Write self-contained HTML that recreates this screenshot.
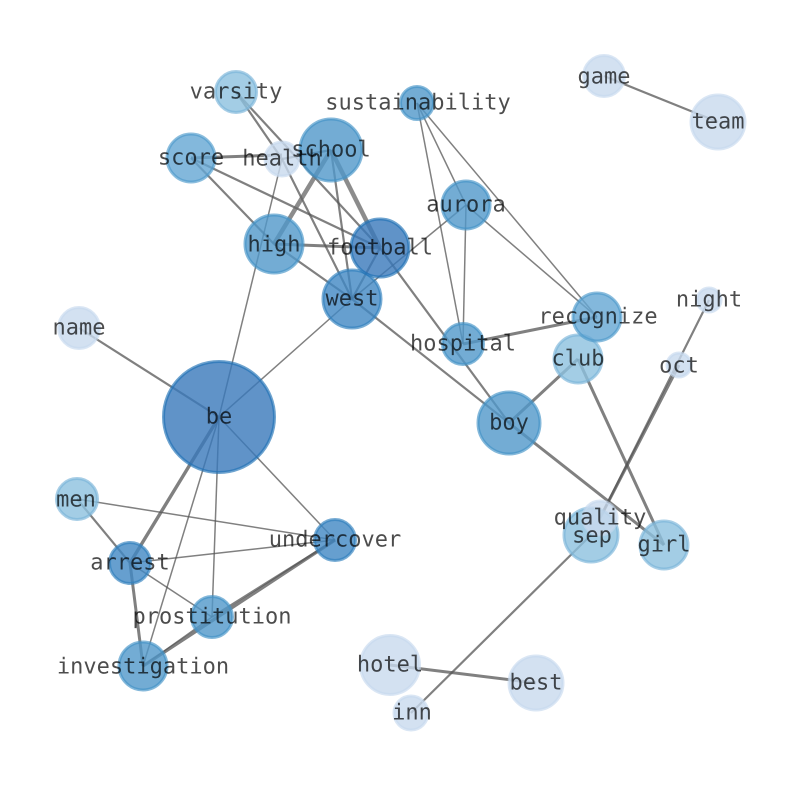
<!DOCTYPE html>
<html><head><meta charset="utf-8"><style>html,body{margin:0;padding:0;background:#fff}svg{display:block}text{font-family:"DejaVu Sans Mono","Liberation Mono",monospace;font-size:22px;fill:#000;fill-opacity:.7;text-anchor:middle;dominant-baseline:central;text-rendering:geometricPrecision}</style></head><body>
<svg width="794" height="790" viewBox="0 0 794 790" xmlns="http://www.w3.org/2000/svg">
<g stroke="#555" stroke-opacity=".75" fill="none">
<g stroke-width="1.5">
<line x1="219" y1="417" x2="352" y2="299"/><line x1="219" y1="417" x2="335" y2="540"/><line x1="219" y1="417" x2="282" y2="159"/><line x1="219" y1="417" x2="212" y2="617"/><line x1="219" y1="417" x2="143" y2="666"/>
<line x1="352" y1="299" x2="466" y2="205"/><line x1="417" y1="103" x2="463" y2="344"/><line x1="417" y1="103" x2="597" y2="317"/><line x1="417" y1="103" x2="466" y2="205"/><line x1="466" y1="205" x2="597" y2="317"/><line x1="466" y1="205" x2="463" y2="344"/>
<line x1="77" y1="499" x2="335" y2="540"/><line x1="130" y1="563" x2="335" y2="540"/><line x1="130" y1="563" x2="212" y2="617"/><line x1="212" y1="617" x2="143" y2="666"/>
</g>
<g stroke-width="2.2">
<line x1="79" y1="328" x2="219" y2="417"/><line x1="604" y1="76" x2="718" y2="122"/><line x1="236" y1="92" x2="282" y2="159"/><line x1="236" y1="92" x2="380" y2="248"/><line x1="282" y1="159" x2="352" y2="299"/><line x1="191" y1="158" x2="380" y2="248"/><line x1="191" y1="158" x2="274" y2="244"/><line x1="331" y1="150" x2="352" y2="299"/><line x1="380" y1="248" x2="509" y2="423"/><line x1="352" y1="299" x2="509" y2="423"/><line x1="380" y1="248" x2="352" y2="299"/><line x1="274" y1="244" x2="352" y2="299"/><line x1="77" y1="499" x2="130" y2="563"/><line x1="411" y1="713" x2="591" y2="535"/><line x1="709" y1="300" x2="600" y2="518"/><line x1="212" y1="617" x2="335" y2="540"/><line x1="282" y1="159" x2="331" y2="150"/>
</g>
<g stroke-width="3">
<line x1="274" y1="244" x2="380" y2="248"/><line x1="509" y1="423" x2="578" y2="359"/><line x1="509" y1="423" x2="664" y2="545"/><line x1="578" y1="359" x2="664" y2="545"/><line x1="463" y1="344" x2="597" y2="317"/><line x1="390" y1="665" x2="536" y2="683"/><line x1="130" y1="563" x2="143" y2="666"/><line x1="191" y1="158" x2="282" y2="155"/>
<line x1="679" y1="365" x2="600" y2="518"/>
</g>
<g stroke-width="3.4">
<line x1="219" y1="417" x2="130" y2="563"/><line x1="143" y1="666" x2="335" y2="540"/>
</g>
<g stroke-width="4.5" stroke="#666">
<line x1="331" y1="150" x2="274" y2="244"/><line x1="331" y1="150" x2="380" y2="248"/>
</g>
</g>
<g stroke-width="3" fill-opacity=".8" stroke-opacity=".65">
<g fill="#8cc0df" stroke="#79b4d9"><circle cx="236" cy="92" r="20.5"/><circle cx="578" cy="359" r="24"/><circle cx="77" cy="499" r="20.5"/><circle cx="591" cy="535" r="27"/><circle cx="664" cy="545" r="24"/></g>
<g fill="#c8d9ee" stroke="#c6d8ee"><circle cx="282" cy="159" r="17"/><circle cx="709" cy="300" r="12"/><circle cx="679" cy="365" r="12"/><circle cx="604" cy="76" r="20.5"/><circle cx="718" cy="122" r="27"/><circle cx="79" cy="328" r="20.5"/><circle cx="600" cy="518" r="17"/><circle cx="390" cy="665" r="29.5"/><circle cx="536" cy="683" r="27"/><circle cx="411" cy="713" r="17"/></g>
<g fill="#64a6d3" stroke="#4d9acb"><circle cx="191" cy="158" r="24"/><circle cx="597" cy="317" r="24"/></g>
<g fill="#5097c9" stroke="#4292c6"><circle cx="331" cy="150" r="31"/><circle cx="274" cy="244" r="29"/><circle cx="509" cy="423" r="31"/><circle cx="417" cy="103" r="16.5"/><circle cx="466" cy="205" r="24"/><circle cx="463" cy="344" r="20.5"/><circle cx="212" cy="617" r="20.5"/><circle cx="143" cy="666" r="24"/></g>
<g fill="#4087c3" stroke="#2f80bd"><circle cx="352" cy="299" r="29"/><circle cx="130" cy="563" r="20.5"/><circle cx="335" cy="540" r="20.5"/></g>
<g fill="#3878ba" stroke="#2171b5"><circle cx="380" cy="248" r="29"/><circle cx="219" cy="417" r="55.5"/></g>
</g>
<text x="219" y="417">be</text><text x="331" y="150">school</text><text x="380" y="248">football</text><text x="352" y="299">west</text><text x="274" y="245">high</text><text x="509" y="423">boy</text><text x="191" y="158">score</text><text x="236" y="92">varsity</text><text x="282" y="159">health</text><text x="418" y="103">sustainability</text><text x="466" y="205">aurora</text><text x="463" y="344">hospital</text><text x="598" y="317">recognize</text><text x="578" y="359">club</text><text x="709" y="300">night</text><text x="679" y="366">oct</text><text x="604" y="77">game</text><text x="718" y="122">team</text><text x="79" y="328">name</text><text x="76" y="500">men</text><text x="130" y="563">arrest</text><text x="335" y="540">undercover</text><text x="212" y="617">prostitution</text><text x="143" y="667">investigation</text><text x="592" y="536">sep</text><text x="600" y="518">quality</text><text x="664" y="545">girl</text><text x="390" y="665">hotel</text><text x="536" y="683">best</text><text x="412" y="713">inn</text>
</svg>
</body></html>
